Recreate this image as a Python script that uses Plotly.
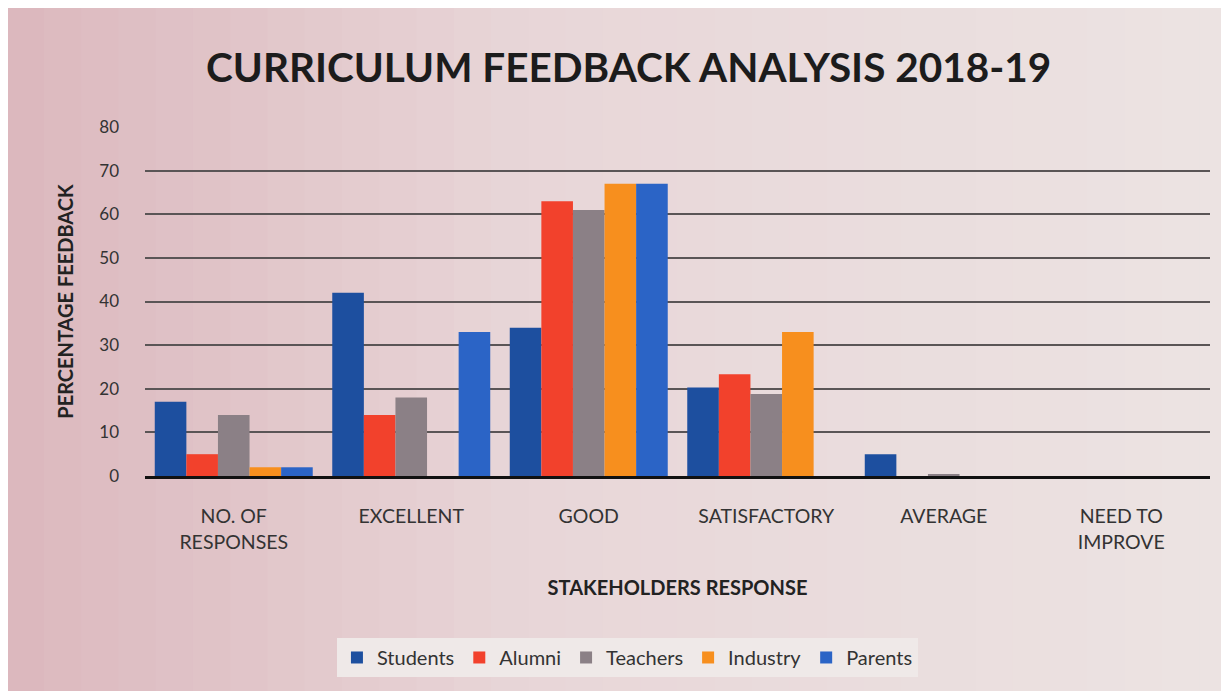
import plotly.graph_objects as go

categories = ["NO. OF<br>RESPONSES", "EXCELLENT", "GOOD", "SATISFACTORY", "AVERAGE", "NEED TO<br>IMPROVE"]
students = [17, 42, 34, 20.3, 5, 0]
alumni = [5, 14, 63, 23.3, 0, 0]
teachers = [14, 18, 61, 18.8, 0.4, 0]
industry = [2, 0, 67, 33, 0, 0]
parents = [2, 33, 67, 0, 0, 0]
y_ticks = [0, 10, 20, 30, 40, 50, 60, 70, 80]

series = [
    ("Students", students, "#1d4f9f"),
    ("Alumni", alumni, "#f2412c"),
    ("Teachers", teachers, "#8b8086"),
    ("Industry", industry, "#f78f1e"),
    ("Parents", parents, "#2b64c6"),
]

fig = go.Figure()
for name, vals, col in series:
    fig.add_trace(go.Bar(name=name, x=categories, y=vals, marker_color=col, marker_line_width=0))

# soft background wash (pinker on the left, paler on the right), like the photographed print
def _mix(c1, c2, t):
    return tuple(round(a + (b - a) * t) for a, b in zip(c1, c2))

left_c, mid_c, right_c = (218, 180, 186), (232, 214, 216), (237, 231, 229)
n_strips = 40
shapes = []
for i in range(n_strips):
    t = i / (n_strips - 1)
    c = _mix(left_c, mid_c, t / 0.4) if t < 0.4 else _mix(mid_c, right_c, (t - 0.4) / 0.6)
    shapes.append(dict(type="rect", xref="paper", yref="paper", layer="below",
                       x0=-0.2 + 1.4 * i / n_strips, x1=-0.2 + 1.4 * (i + 1) / n_strips + 0.002,
                       y0=-1, y1=1.5, line=dict(width=0), fillcolor="rgb(%d,%d,%d)" % c))

font_family = "Lato, Open Sans, sans-serif"
fig.update_layout(
    width=1229, height=691,
    barmode="group", bargap=0.11, bargroupgap=0,
    paper_bgcolor="#e9dadb", plot_bgcolor="rgba(0,0,0,0)",
    margin=dict(l=137, r=27, t=119, b=223),
    font=dict(family=font_family, color="#2b2b2b"),
    shapes=shapes,
    title=dict(text="<b>CURRICULUM FEEDBACK ANALYSIS 2018-19</b>", x=0.505, xanchor="center",
               y=0.913, yanchor="middle", font=dict(size=40.5, color="#1c1c1c", family=font_family)),
    legend=dict(orientation="h", x=0.453, xanchor="center", y=-0.52, yanchor="middle",
                font=dict(size=20, color="#333"), itemwidth=30, bgcolor="#efe9e8"),
    showlegend=True,
)
fig.update_yaxes(range=[0, 80], tickvals=y_ticks, showgrid=True, gridcolor="#5a5556", gridwidth=1.8,
                 zeroline=False, tickfont=dict(size=17, color="#333"), ticks="", ticklabelstandoff=25,
                 title=dict(text="<b>PERCENTAGE FEEDBACK</b>", font=dict(size=20, color="#222"), standoff=20))
fig.update_xaxes(showline=True, linecolor="#111", linewidth=2.5, tickfont=dict(size=19.5, color="#333"),
                 ticks="", ticklabelstandoff=21,
                 title=dict(text="<b>STAKEHOLDERS RESPONSE</b>", font=dict(size=20, color="#222"), standoff=30))

fig.write_html("out.html")
